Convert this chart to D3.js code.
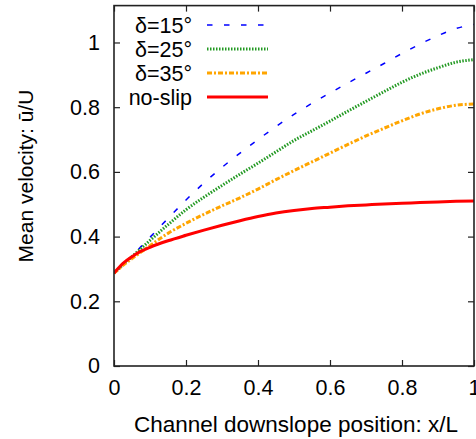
<!DOCTYPE html>
<html>
<head>
<meta charset="utf-8">
<script src="https://cdn.jsdelivr.net/npm/d3@7"></script>
<style>
  html, body { margin: 0; padding: 0; background: #fff; }
  svg { display: block; }
  text { font-family: "Liberation Sans", Arial, Helvetica, sans-serif; fill: #000; }
</style>
</head>
<body>
<svg id="chart" width="476" height="439"></svg>
<script>
// ---- data ----
const xPositions = [0, 0.025, 0.05, 0.075, 0.1, 0.15, 0.2, 0.25, 0.3, 0.35, 0.4, 0.45, 0.5, 0.55, 0.6, 0.65, 0.7, 0.75, 0.8, 0.85, 0.9, 0.95, 1.0];
const delta15 = [0.287, 0.314, 0.340, 0.369, 0.398, 0.456, 0.513, 0.566, 0.614, 0.658, 0.700, 0.740, 0.778, 0.812, 0.844, 0.875, 0.905, 0.935, 0.966, 0.995, 1.021, 1.043, 1.056];
const delta25 = [0.287, 0.313, 0.338, 0.363, 0.388, 0.437, 0.483, 0.522, 0.558, 0.593, 0.627, 0.662, 0.697, 0.727, 0.757, 0.788, 0.818, 0.848, 0.877, 0.902, 0.922, 0.939, 0.947];
const delta35 = [0.287, 0.311, 0.332, 0.352, 0.372, 0.410, 0.441, 0.469, 0.495, 0.520, 0.547, 0.576, 0.604, 0.631, 0.658, 0.685, 0.711, 0.735, 0.758, 0.779, 0.795, 0.806, 0.810];
const noSlip  = [0.287, 0.317, 0.338, 0.355, 0.367, 0.387, 0.404, 0.420, 0.435, 0.449, 0.462, 0.473, 0.481, 0.487, 0.491, 0.495, 0.498, 0.501, 0.503, 0.505, 0.507, 0.509, 0.510];
const seriesNames = ["\u03b4=15\u00b0", "\u03b4=25\u00b0", "\u03b4=35\u00b0", "no-slip"];
const xTicks = [0, 0.2, 0.4, 0.6, 0.8, 1];
const yTicks = [0, 0.2, 0.4, 0.6, 0.8, 1];
const xTickLabels = ["0", "0.2", "0.4", "0.6", "0.8", "1"];
const yTickLabels = ["0", "0.2", "0.4", "0.6", "0.8", "1"];
const xTitle = "Channel downslope position: x/L";
const yTitle = "Mean velocity: \u016b/U";

(function () {
  // ---- styles ----
  const styles = [
    { color: "#0000ff", width: 1.5, dash: "5.5,11.5" },
    { color: "#229922", width: 3, dash: "1.5,1.5" },
    { color: "#ffa500", width: 3, dash: "5,2,2,2" },
    { color: "#ff0000", width: 3, dash: null }
  ];
  const seriesValues = [delta15, delta25, delta35, noSlip];

  const svg = d3.select("#chart");
  const pL = 114, pR = 474, pB = 366, pT = 5.6;
  const x = d3.scaleLinear().domain([0, 1]).range([pL, pR]);
  const y = d3.scaleLinear().domain([0, 1.114]).range([pB, pT]);

  svg.append("defs").append("clipPath").attr("id", "clip")
    .append("rect").attr("x", pL).attr("y", pT).attr("width", pR - pL).attr("height", pB - pT);

  const line = d3.line().x(d => x(d[0])).y(d => y(d[1])).curve(d3.curveMonotoneX);

  const g = svg.append("g").attr("clip-path", "url(#clip)");
  seriesValues.forEach((vals, i) => {
    const pts = xPositions.map((xv, j) => [xv, vals[j]]);
    g.append("path").datum(pts)
      .attr("d", line)
      .attr("fill", "none")
      .attr("stroke", styles[i].color)
      .attr("stroke-width", styles[i].width)
      .attr("stroke-dasharray", styles[i].dash)
      .attr("stroke-linejoin", "round");
  });

  // axes (ticks inward, mirrored)
  const tickLen = 6;
  const axisColor = "#222";
  const axB = d3.axisBottom(x).tickValues(xTicks).tickSize(-tickLen).tickFormat((d, i) => xTickLabels[i]).tickPadding(14);
  const axT = d3.axisTop(x).tickValues(xTicks).tickSize(-tickLen).tickFormat("");
  const axL = d3.axisLeft(y).tickValues(yTicks).tickSize(-tickLen).tickFormat((d, i) => yTickLabels[i]).tickPadding(14);
  const axR = d3.axisRight(y).tickValues(yTicks).tickSize(-tickLen).tickFormat("");

  function styleAxis(sel) {
    sel.select(".domain").remove();
    sel.selectAll(".tick line").attr("stroke", axisColor).attr("stroke-width", 1.2);
    sel.selectAll(".tick text").style("font-size", "21.5px").attr("fill", "#000");
  }
  svg.append("g").attr("transform", `translate(0,${pB})`).call(axB).call(styleAxis);
  svg.append("g").attr("transform", `translate(0,${pT})`).call(axT).call(styleAxis);
  svg.append("g").attr("transform", `translate(${pL},0)`).call(axL).call(styleAxis);
  svg.append("g").attr("transform", `translate(${pR},0)`).call(axR).call(styleAxis);

  svg.append("rect").attr("x", pL).attr("y", pT).attr("width", pR - pL).attr("height", pB - pT)
    .attr("fill", "none").attr("stroke", axisColor).attr("stroke-width", 1.6);

  // titles
  svg.append("text").attr("x", 296).attr("y", 432).attr("text-anchor", "middle")
    .style("font-size", "22.5px").text(xTitle);
  svg.append("text").attr("transform", "translate(33,176) rotate(-90)").attr("text-anchor", "middle")
    .style("font-size", "21px").text(yTitle);

  // legend
  const legendYs = [25, 49, 73, 97];
  seriesNames.forEach((name, i) => {
    const ly = legendYs[i];
    svg.append("text").attr("x", 192).attr("y", ly).attr("dy", "0.36em").attr("text-anchor", "end")
      .style("font-size", "21.5px").text(name);
    svg.append("line").attr("x1", 207).attr("x2", 268).attr("y1", ly).attr("y2", ly)
      .attr("stroke", styles[i].color).attr("stroke-width", styles[i].width)
      .attr("stroke-dasharray", styles[i].dash);
  });
})();
</script>
</body>
</html>
